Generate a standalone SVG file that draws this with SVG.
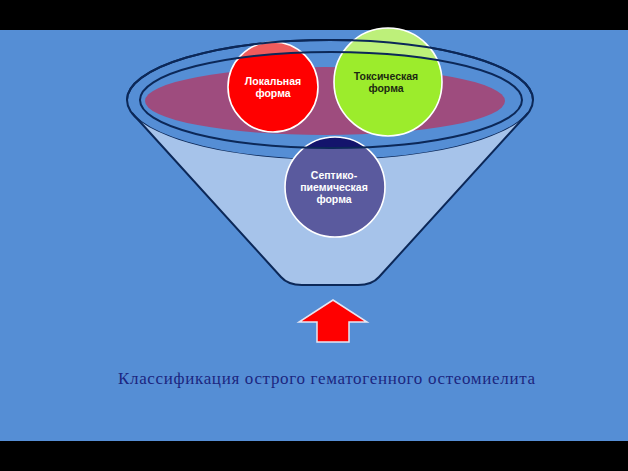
<svg xmlns="http://www.w3.org/2000/svg" width="628" height="471" viewBox="0 0 628 471">
<style>
.edge{fill:none;stroke:#0c2858;stroke-width:2}
.ring{fill:none;stroke:#ffffff;stroke-width:1.6}
.lbl{font-family:"Liberation Sans",Arial,sans-serif;font-weight:bold;font-size:10.5px;text-anchor:middle}
</style>
<defs>
<clipPath id="inner"><ellipse cx="331" cy="100" rx="191" ry="48"/></clipPath>
</defs>
<rect x="0" y="0" width="628" height="471" fill="#000"/>
<rect x="0" y="30" width="628" height="411" fill="#558ed5"/>
<g id="funnel">
<ellipse cx="330" cy="100" rx="203" ry="60" fill="#a6c3ea" class="edge"/>
<path d="M132,113 L281,277 Q288,285 302,285 L358,285 Q372,285 379,277 L528,113 A203,60 0 0 1 132,113 Z" fill="#a6c3ea"/>
<path class="edge" d="M132,113 L281,277 Q288,285 302,285 L358,285 Q372,285 379,277 L528,113"/>
<ellipse cx="331" cy="100" rx="191" ry="48" fill="#558ed5"/>
<ellipse cx="325" cy="101" rx="180" ry="34" fill="#9e4c7e"/>
</g>
<g id="node-local">
<circle cx="273" cy="87" r="45" fill="#f05c5c"/>
<circle cx="273" cy="87" r="45" fill="#ff0000" clip-path="url(#inner)"/>
<circle cx="273" cy="87" r="45" class="ring"/>
</g>
<g id="node-toxic">
<circle cx="388" cy="82" r="54" fill="#bdf07a"/>
<circle cx="388" cy="82" r="54" fill="#9cec2c" clip-path="url(#inner)"/>
<circle cx="388" cy="82" r="54" class="ring"/>
</g>
<g id="node-septic">
<circle cx="335" cy="187" r="50" fill="#5a5a9e"/>
<circle cx="335" cy="187" r="50" fill="#14146c" clip-path="url(#inner)"/>
<circle cx="335" cy="187" r="50" class="ring"/>
</g>
<g id="rim-lines">
<path class="edge" d="M127,100 A203,60 0 0 1 533,100"/>
<ellipse cx="331" cy="100" rx="191" ry="48" class="edge"/>
</g>
<g id="labels">
<text class="lbl" fill="#ffffff" x="273" y="85">Локальная</text>
<text class="lbl" fill="#ffffff" x="273" y="97">форма</text>
<text class="lbl" fill="#1c2a12" x="386" y="80">Токсическая</text>
<text class="lbl" fill="#1c2a12" x="386" y="92">форма</text>
<text class="lbl" fill="#ffffff" x="334" y="179">Септико-</text>
<text class="lbl" fill="#ffffff" x="334" y="191">пиемическая</text>
<text class="lbl" fill="#ffffff" x="334" y="203">форма</text>
</g>
<g id="connectors">
<path d="M333,300 L367,322 L349,322 L349,342 L317,342 L317,322 L299,322 Z" fill="#ff0000" stroke="#e6e6f2" stroke-width="1.5" stroke-linejoin="miter"/>
</g>
<g id="caption">
<text x="118" y="384" font-family="'Liberation Serif','Times New Roman',serif" font-size="17" fill="#1c2680" textLength="417" lengthAdjust="spacing">Классификация острого гематогенного остеомиелита</text>
</g>
</svg>
